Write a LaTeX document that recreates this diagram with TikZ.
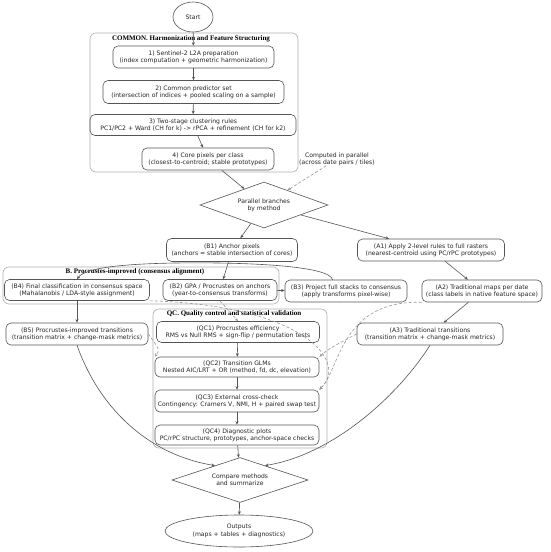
\documentclass[tikz,border=0pt]{standalone}
\usepackage{fontspec}
\setmainfont{DejaVu Sans}
\newfontfamily\lblfont{Liberation Serif}
\usetikzlibrary{shapes.geometric,arrows.meta}
\definecolor{linec}{HTML}{555555}
\definecolor{txtc}{HTML}{262626}
\definecolor{clc}{HTML}{B0B0B0}
\definecolor{dashc}{HTML}{999999}
\tikzset{
  box/.style={draw=linec, rounded corners=5pt, align=center, font=\fontsize{6.1}{7.3}\selectfont, text=txtc, inner sep=1pt, line width=0.6pt},
  oval/.style={draw=linec, ellipse, align=center, font=\fontsize{6.1}{7.3}\selectfont, text=txtc, inner sep=0pt, line width=0.6pt},
  dia/.style={draw=linec, diamond, aspect=2.8, align=center, font=\fontsize{6.1}{7.3}\selectfont, text=txtc, inner sep=0pt, line width=0.6pt},
  plain/.style={align=center, font=\fontsize{6.1}{7.3}\selectfont, text=txtc, inner sep=0pt},
  cluster/.style={draw=clc, rounded corners=6pt, line width=0.6pt},
  clabel/.style={font=\lblfont\bfseries\fontsize{7}{8}\selectfont, text=black, inner sep=0pt},
  edge/.style={draw=linec, line width=0.6pt, -{Stealth[length=3.5pt,width=3pt]}},
  dedge/.style={draw=dashc, line width=0.6pt, dashed, dash pattern=on 3pt off 2pt, -{Stealth[length=3.5pt,width=3pt]}}
}
\begin{document}
\begin{tikzpicture}[x=1pt,y=-1pt]
\useasboundingbox (0,0) rectangle (550,552);
\fill[white] (0,0) rectangle (550,552);
% clusters
\draw[cluster] (90,33) rectangle (298,172);
\node[clabel] (lc) at (191,39) {COMMON. Harmonization and Feature Structuring};
\draw[cluster] (3,267) rectangle (279,304);
\node[clabel] (lb) at (135,272) {B. Procrustes-improved (consensus alignment)};
\draw[cluster] (153,309) rectangle (327,448);
\node[clabel] (lq) at (234,314) {QC. Quality control and statistical validation};
% nodes
\node[oval, minimum width=40, minimum height=30] (start) at (193,17) {Start};
\node[box, minimum width=161, minimum height=22] (n1) at (193.5,57) {1) Sentinel-2 L2A preparation\\(index computation + geometric harmonization)};
\node[box, minimum width=181, minimum height=23] (n2) at (193.5,92) {2) Common predictor set\\(intersection of indices + pooled scaling on a sample)};
\node[box, minimum width=206, minimum height=21] (n3) at (193,125) {3) Two-stage clustering rules\\PC1/PC2 + Ward (CH for k) -> rPCA + refinement (CH for k2)};
\node[box, minimum width=132, minimum height=22] (n4) at (208,159) {4) Core pixels per class\\(closest-to-centroid; stable prototypes)};
\node[plain] (cp) at (337,159) {Computed in parallel\\(across date pairs / tiles)};
\node[dia, minimum width=128, minimum height=46] (par) at (264,205) {Parallel branches\\by method};
\node[box, minimum width=131, minimum height=23] (B1) at (232,250) {(B1) Anchor pixels\\(anchors = stable intersection of cores)};
\node[box, minimum width=147, minimum height=22] (A1) at (431,250) {(A1) Apply 2-level rules to full rasters\\(nearest-centroid using PC/rPC prototypes)};
\node[box, minimum width=145, minimum height=21] (B4) at (77,290) {(B4) Final classification in consensus space\\(Mahalanobis / LDA-style assignment)};
\node[box, minimum width=114, minimum height=21] (B2) at (220,290) {(B2) GPA / Procrustes on anchors\\(year-to-consensus transforms)};
\node[box, minimum width=122, minimum height=22] (B3) at (346,291) {(B3) Project full stacks to consensus\\(apply transforms pixel-wise)};
\node[box, minimum width=120, minimum height=22] (A2) at (482,291) {(A2) Traditional maps per date\\(class labels in native feature space)};
\node[box, minimum width=146, minimum height=22] (A3) at (430,334) {(A3) Traditional transitions\\(transition matrix + change-mask metrics)};
\node[box, minimum width=142, minimum height=22] (B5) at (77,334) {(B5) Procrustes-improved transitions\\(transition matrix + change-mask metrics)};
\node[box, minimum width=163, minimum height=21] (Q1) at (238,332) {(QC1) Procrustes efficiency\\RMS vs Null RMS + sign-flip / permutation tests};
\node[box, minimum width=164, minimum height=20] (Q2) at (237,367) {(QC2) Transition GLMs\\Nested AIC/LRT + OR (method, fd, dc, elevation)};
\node[box, minimum width=164, minimum height=22] (Q3) at (237,401) {(QC3) External cross-check\\Contingency: Cramers V, NMI, H + paired swap test};
\node[box, minimum width=164, minimum height=20] (Q4) at (237,435) {(QC4) Diagnostic plots\\PC/rPC structure, prototypes, anchor-space checks};
\node[dia, minimum width=136, minimum height=45] (cmp) at (240,480) {Compare methods\\and summarize};
\node[oval, minimum width=148, minimum height=32] (out) at (239,531) {Outputs\\(maps + tables + diagnostics)};
% solid edges
\draw[edge] (start) -- (n1);
\draw[edge] (n1) -- (n2);
\draw[edge] (n2) -- (n3);
\draw[edge] (n3) -- (n4);
\draw[edge] (n4) -- (par);
\draw[dedge] (cp) -- (par);
\draw[edge] (par) -- (B1);
\draw[edge] (par) -- (A1);
\draw[edge] (B1) -- (B2);
\draw[edge] (B2) -- (B3);
\draw[edge] (B3.140) .. controls (330,266) and (250,262) .. (175,263) .. controls (120,264) and (85,268) .. (B4.north);
\draw[edge] (B4) -- (B5);
\draw[edge] (A1) -- (A2);
\draw[edge] (A2) -- (A3);
\draw[edge] (Q1) -- (Q2);
\draw[edge] (Q2) -- (Q3);
\draw[edge] (Q3) -- (Q4);
\draw[edge] (Q4) -- (cmp);
\draw[edge] (cmp) -- (out);
\draw[edge] (B5.south) .. controls (100,410) and (150,455) .. (cmp.150);
\draw[edge] (A3.south) .. controls (395,400) and (330,455) .. (cmp.30);
% dashed edges to QC
\draw[dedge] (B2.south) -- (Q1.north);
\draw[dedge] (B5.east) .. controls (160,350) .. (Q2.north west);
\draw[dedge] (A3.west) .. controls (330,348) .. (Q2.north east);
\draw[dedge] (B4.south east) .. controls (300,305) and (350,360) .. (Q3.north east);
\draw[dedge] (A2.south west) .. controls (340,300) and (340,370) .. (Q3.north east);
\end{tikzpicture}
\end{document}
